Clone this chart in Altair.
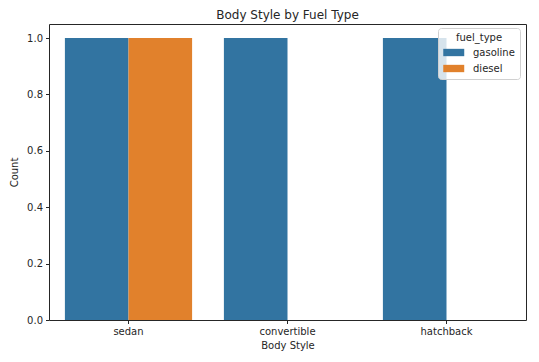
import altair as alt
import pandas as pd

body_styles = ["sedan", "convertible", "hatchback"]
fuel_types = ["gasoline", "diesel"]
gas_counts = [1, 1, 1]
diesel_counts = [1, 0, 0]

rows = []
for b, g, d in zip(body_styles, gas_counts, diesel_counts):
    rows.append({"body_style": b, "fuel_type": "gasoline", "count": g})
    if d:
        rows.append({"body_style": b, "fuel_type": "diesel", "count": d})
df = pd.DataFrame(rows)

font = "DejaVu Sans"
ink = "#262626"

chart = alt.Chart(df).mark_bar().encode(
    x=alt.X("body_style:N", sort=body_styles, title="Body Style",
            scale=alt.Scale(paddingInner=0.2, paddingOuter=0.1),
            axis=alt.Axis(labelAngle=0, labelFontSize=10, titleFontSize=10,
                          labelColor=ink, titleColor=ink, titleFontWeight="normal",
                          labelFont=font, titleFont=font, tickSize=3.5,
                          tickColor=ink, domain=False, labelPadding=3, titlePadding=4)),
    xOffset=alt.XOffset("fuel_type:N", sort=fuel_types,
                        scale=alt.Scale(domain=fuel_types, paddingInner=0, paddingOuter=0)),
    y=alt.Y("count:Q", title="Count",
            scale=alt.Scale(domain=[0, 1.05], nice=False),
            axis=alt.Axis(values=[0, 0.2, 0.4, 0.6, 0.8, 1.0], format=".1f",
                          labelFontSize=10, titleFontSize=10, grid=False,
                          labelColor=ink, titleColor=ink, titleFontWeight="normal",
                          labelFont=font, titleFont=font, tickSize=3.5,
                          tickColor=ink, domain=False, labelPadding=3, titlePadding=7)),
    color=alt.Color("fuel_type:N", sort=fuel_types, title="fuel_type",
                    scale=alt.Scale(domain=fuel_types, range=["#3274a1", "#e1812c"]),
                    legend=alt.Legend(orient="none", legendX=389, legendY=4,
                                      symbolType="M-1,-0.7H3V0.7H-1Z", symbolSize=110,
                                      symbolStrokeWidth=0, symbolOpacity=1,
                                      titleFontSize=10, labelFontSize=10, titleFont=font,
                                      labelFont=font, titleFontWeight="normal",
                                      titleColor=ink, labelColor=ink,
                                      titleAlign="center", titleAnchor="middle",
                                      titlePadding=4,
                                      fillColor="rgba(255,255,255,0.8)", strokeColor="#d0d0d0",
                                      padding=5, cornerRadius=3, rowPadding=5,
                                      labelOffset=19)),
).properties(
    width=477, height=296,
    title=alt.TitleParams("Body Style by Fuel Type", fontSize=12, font=font,
                          fontWeight="normal", color=ink, anchor="middle", offset=2),
    padding={"left": 41, "top": 16, "right": 5, "bottom": 34},
    autosize=alt.AutoSizeParams(type="none"),
).configure_view(stroke=ink, strokeWidth=1)

chart.save("out.html", embed_options={"renderer": "svg", "actions": False})
